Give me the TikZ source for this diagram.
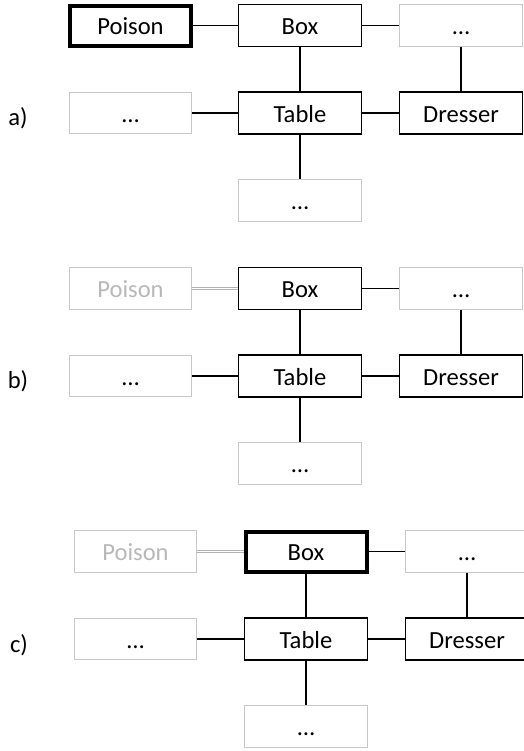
\documentclass[tikz,border=0pt]{standalone}
\usepackage{fontspec}
\setmainfont{Carlito}
\usetikzlibrary{positioning}

\tikzset{
  obj/.style={draw, line width=0.65pt, minimum width=61.3pt, minimum height=20.9pt,
    inner sep=0pt, text height=9.6pt, text depth=0.2pt, font=\fontsize{12.3}{14}\selectfont},
  held/.style={obj, line width=2pt, minimum width=60.5pt, minimum height=20pt},
  unk/.style={obj, draw=black!22, line width=0.5pt},
  gone/.style={unk, text=black!28},
  link/.style={-, line width=0.65pt},
  faded/.style={-, draw=black!30, line width=0.5pt, double=white, double distance=0.5pt},
  tag/.style={font=\fontsize{12.3}{14}\selectfont}
}

\begin{document}
\begin{tikzpicture}[node distance=43.75pt and 80.5pt, on grid]
    \clip (0,0) rectangle (262pt,-375.5pt);

      % a) poison held
      \node[obj] (boxA) at (150pt,-12.75pt) {Box};
      \node[held] (poisA) [left=84.75pt of boxA] {Poison};
      \node[unk] (moreA) [right=of boxA] {\dots};
      \node[obj] (tableA) [below=of boxA] {Table};
      \node[obj] (dresserA) [right=of tableA] {Dresser};
      \node[unk] (leftA) [left=84.75pt of tableA] {\dots};
      \node[unk] (bottomA) [below=of tableA] {\dots};
      \node[tag] (labA) at (9pt,-59pt) {a)};

      \path[link]
        (poisA) edge (boxA)
        (boxA) edge (moreA)
        (boxA) edge (tableA)
        (moreA) edge (dresserA)
        (leftA) edge (tableA)
        (tableA) edge (dresserA)
        (tableA) edge (bottomA);

      % b) poison faded
      \node[obj] (boxB) at (150pt,-144.25pt) {Box};
      \node[gone] (poisB) [left=84.75pt of boxB] {Poison};
      \node[unk] (moreB) [right=of boxB] {\dots};
      \node[obj] (tableB) [below=of boxB] {Table};
      \node[obj] (dresserB) [right=of tableB] {Dresser};
      \node[unk] (leftB) [left=84.75pt of tableB] {\dots};
      \node[unk] (bottomB) [below=of tableB] {\dots};
      \node[tag] (labB) at (9pt,-190.5pt) {b)};

      \path (poisB) edge[faded] (boxB);
      \path[link]
        (boxB) edge (moreB)
        (boxB) edge (tableB)
        (moreB) edge (dresserB)
        (leftB) edge (tableB)
        (tableB) edge (dresserB)
        (tableB) edge (bottomB);

      % c) box held
      \node[held] (boxC) at (153pt,-275.75pt) {Box};
      \node[gone] (poisC) [left=85.25pt of boxC] {Poison};
      \node[unk] (moreC) [right=of boxC] {\dots};
      \node[obj] (tableC) [below=of boxC] {Table};
      \node[obj] (dresserC) [right=of tableC] {Dresser};
      \node[unk] (leftC) [left=85.25pt of tableC] {\dots};
      \node[unk] (bottomC) [below=of tableC] {\dots};
      \node[tag] (labC) at (9.5pt,-322.5pt) {c)};

      \path (poisC) edge[faded] (boxC);
      \path[link]
        (boxC) edge (moreC)
        (boxC) edge (tableC)
        (moreC) edge (dresserC)
        (leftC) edge (tableC)
        (tableC) edge (dresserC)
        (tableC) edge (bottomC);

    \end{tikzpicture}
\end{document}
